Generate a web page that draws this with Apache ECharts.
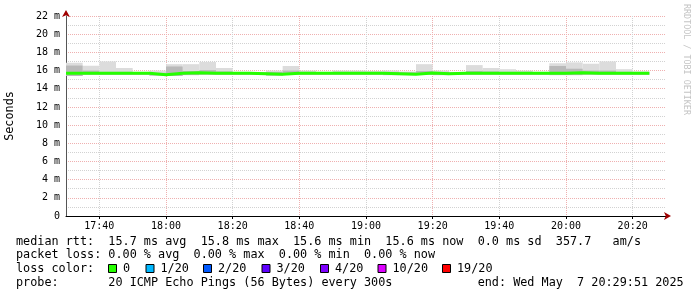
<!DOCTYPE html>
<html><head><meta charset="utf-8">
<script src="https://cdn.jsdelivr.net/npm/echarts@6/dist/echarts.min.js"></script>
<style>html,body{margin:0;padding:0;background:#fff}#c{width:697px;height:297px}</style>
</head><body><div id="c"></div>
<script>
// ---- data ----
const binStarts = ['17:30','17:35','17:40','17:45','17:50','17:55','18:00','18:05','18:10','18:15','18:20','18:25',
  '18:30','18:35','18:40','18:45','18:50','18:55','19:00','19:05','19:10','19:15','19:20','19:25',
  '19:30','19:35','19:40','19:45','19:50','19:55','20:00','20:05','20:10','20:15','20:20'];
const binMinutes = 5;
const medianRtt = [15.70,15.70,15.70,15.70,15.70,15.55,15.70,15.75,15.70,15.70,15.70,15.65,
  15.60,15.70,15.70,15.70,15.70,15.70,15.70,15.65,15.60,15.72,15.65,15.70,
  15.70,15.70,15.70,15.70,15.70,15.70,15.75,15.70,15.70,15.70,15.70];
const pingMax = [16.86,16.53,17.00,16.28,15.85,16.00,16.70,16.70,16.95,16.28,15.85,15.85,
  16.00,16.50,16.00,15.85,16.00,16.00,15.95,16.00,15.90,16.70,16.00,15.85,
  16.60,16.28,16.15,16.00,15.85,16.80,16.90,16.75,17.00,16.15,15.90];
const pingInnerHigh = [16.55,16.00,15.85,15.85,15.80,15.75,16.45,15.95,16.05,15.90,15.80,15.80,
  15.85,16.00,15.85,15.80,15.85,15.85,15.80,15.85,15.80,15.95,15.85,15.80,
  15.95,15.90,15.85,15.85,15.80,16.50,16.20,16.00,16.00,15.85,15.80];
const pingMin = [15.40,15.55,15.55,15.55,15.55,15.45,15.40,15.50,15.55,15.55,15.55,15.55,
  15.45,15.55,15.55,15.55,15.55,15.55,15.55,15.50,15.50,15.55,15.50,15.55,
  15.55,15.55,15.55,15.55,15.55,15.50,15.50,15.55,15.55,15.55,15.55];
const axisStart = '17:30';
const axisEnd = '20:30';
const xTickLabels = ['17:40','18:00','18:20','18:40','19:00','19:20','19:40','20:00','20:20'];
const yMax = 22;
const yStep = 2;
const statLines = [
  'median rtt:  15.7 ms avg  15.8 ms max  15.6 ms min  15.6 ms now  0.0 ms sd  357.7   am/s',
  'packet loss: 0.00 % avg  0.00 % max  0.00 % min  0.00 % now',
  'loss color:',
  'probe:       20 ICMP Echo Pings (56 Bytes) every 300s            end: Wed May  7 20:29:51 2025'
];
const lossLabels = ['0','1/20','2/20','3/20','4/20','10/20','19/20'];
const lossColors = ['#26ff00','#00b8ff','#0059ff','#5e00ff','#7e00ff','#dd00ff','#ff0000'];
const watermark = 'RRDTOOL / TOBI OETIKER';

// ---- build ----
const toMin = s => { const [h, m] = s.split(':').map(Number); return h * 60 + m; };
const fmt = v => { const h = Math.floor(v / 60), m = Math.round(v % 60); return h + ':' + String(m).padStart(2, '0'); };
const xMin = toMin(axisStart), xMax = toMin(axisEnd);
const labelSet = new Set(xTickLabels.map(toMin));

const outerData = binStarts.map((s, i) => [toMin(s), toMin(s) + binMinutes, pingMin[i], pingMax[i]]);
const innerData = binStarts.map((s, i) => [toMin(s), toMin(s) + binMinutes, pingMin[i], pingInnerHigh[i]]);
const medData = binStarts.map((s, i) => [toMin(s), medianRtt[i]]);
medData.push([toMin(binStarts[binStarts.length - 1]) + binMinutes, medianRtt[medianRtt.length - 1]]);

function rectRenderer(color) {
  return function (params, api) {
    const p0 = api.coord([api.value(0), api.value(3)]);
    const p1 = api.coord([api.value(1), api.value(2)]);
    return { type: 'rect', shape: { x: p0[0], y: p0[1], width: p1[0] - p0[0], height: p1[1] - p0[1] },
      style: { fill: color } };
  };
}

const mono = '"DejaVu Sans Mono", monospace';
const RED = '#efb0b0', GRAY = '#d2d2d2';

const graphic = [];
const rowY = [241.5, 255, 269, 282.5];
statLines.forEach((t, i) => graphic.push({ type: 'text', x: 16, y: rowY[i],
  style: { text: t, font: '11.8px ' + mono, fill: '#000', verticalAlign: 'middle' } }));
const boxX = [108, 145.5, 203, 261.5, 320, 377.5, 442];
lossLabels.forEach((l, i) => {
  graphic.push({ type: 'rect', shape: { x: boxX[i] + 0.5, y: 264.5, width: 8, height: 8 },
    style: { fill: lossColors[i], stroke: '#000', lineWidth: 1 } });
  graphic.push({ type: 'text', x: boxX[i] + 15, y: rowY[2],
    style: { text: l, font: '11.8px ' + mono, fill: '#000', verticalAlign: 'middle' } });
});
graphic.push({ type: 'text', x: 686, y: 4, rotation: -Math.PI / 2,
  style: { text: watermark, font: '8.4px ' + mono, fill: '#c4c4c4', verticalAlign: 'middle', align: 'left' } });

const chart = echarts.init(document.getElementById('c'), null, { renderer: 'canvas' });
chart.setOption({
  animation: false,
  backgroundColor: '#fff',
  grid: { left: 66, right: 31, top: 16, bottom: 81, containLabel: false, outerBoundsMode: 'none' },
  xAxis: [{
    type: 'value', min: xMin, max: xMax, interval: 10,
    axisLine: { show: true, lineStyle: { color: '#000', width: 1 } },
    axisTick: { show: true, length: 3, lineStyle: { color: '#000' }, customValues: xTickLabels.map(toMin) },
    axisLabel: { show: true, margin: 5, fontFamily: mono, fontSize: 10, color: '#000',
      formatter: v => labelSet.has(v) ? fmt(v) : '' },
    splitLine: { show: true, lineStyle: { color: [GRAY, RED], type: [1, 1], width: 1 } }
  }, {
    type: 'value', min: xMin, max: xMax, position: 'bottom',
    axisLine: { show: true, symbol: ['none', 'arrow'], symbolSize: [6, 7], symbolOffset: [0, 5],
      lineStyle: { color: '#a00000', width: 0 } },
    axisTick: { show: false }, axisLabel: { show: false }, splitLine: { show: false }
  }],
  yAxis: [{
    type: 'value', min: 0, max: yMax, interval: yStep,
    name: 'Seconds', nameLocation: 'middle', nameRotate: 90, nameGap: 50,
    nameTextStyle: { fontFamily: mono, fontSize: 11.8, color: '#000' },
    axisLine: { show: true, lineStyle: { color: '#555', width: 1 } },
    axisTick: { show: false },
    axisLabel: { margin: 6, fontFamily: mono, fontSize: 10, color: '#000',
      formatter: v => v === 0 ? '0' : v + ' m' },
    splitLine: { show: true, lineStyle: { color: RED, type: [1, 1], width: 1 } },
    minorTick: { show: false, splitNumber: 2 },
    minorSplitLine: { show: true, lineStyle: { color: GRAY, type: [1, 1], width: 1 } }
  }, {
    type: 'value', min: 0, max: yMax, position: 'left',
    axisLine: { show: true, symbol: ['none', 'arrow'], symbolSize: [6, 7], symbolOffset: [0, 6],
      lineStyle: { color: '#a00000', width: 0 } },
    axisTick: { show: false }, axisLabel: { show: false }, splitLine: { show: false }
  }],
  series: [
    { type: 'custom', name: 'smoke', renderItem: rectRenderer('#dcdcdc'), data: outerData,
      encode: { x: [0, 1], y: [2, 3] }, z: 2, silent: true },
    { type: 'custom', name: 'smoke-inner', renderItem: rectRenderer('#b9b9b9'), data: innerData,
      encode: { x: [0, 1], y: [2, 3] }, z: 3, silent: true },
    { type: 'line', name: 'median', data: medData, step: 'end', showSymbol: false, symbol: 'none',
      lineStyle: { color: '#26ff00', width: 3 }, z: 4, silent: true }
  ],
  graphic: graphic
});
</script></body></html>
